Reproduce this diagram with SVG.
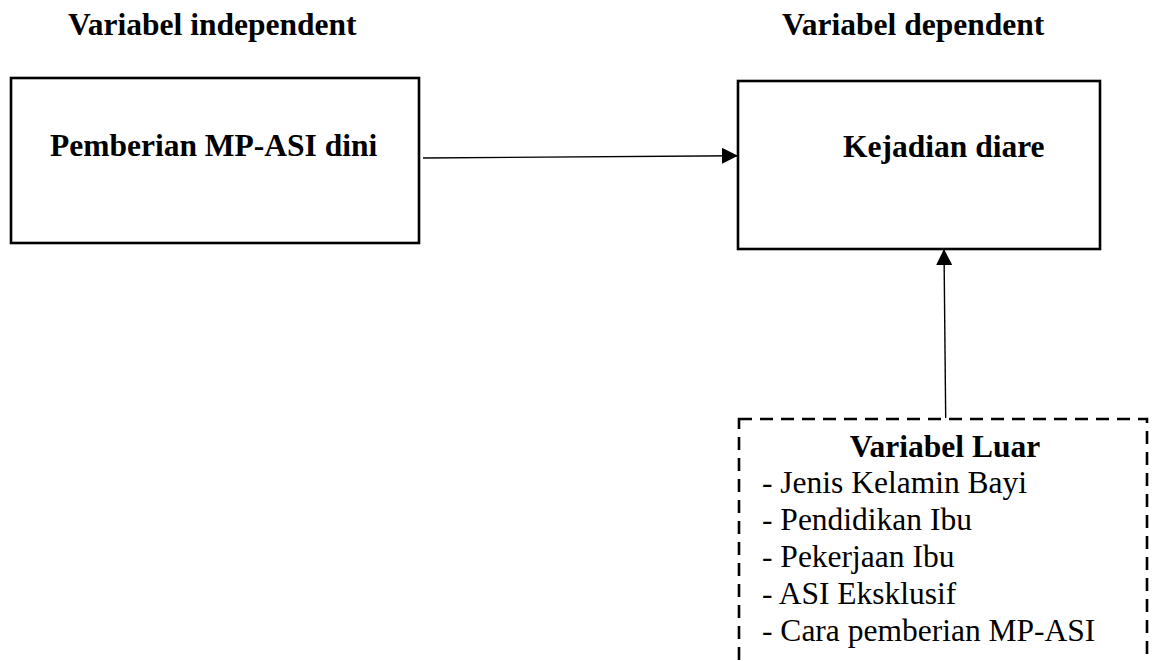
<svg xmlns="http://www.w3.org/2000/svg" width="1152" height="661" viewBox="0 0 1152 661">
<style>
.b{font-family:"Liberation Serif","Times New Roman",serif;font-weight:bold;font-size:31.5px;fill:#000}
.r{font-family:"Liberation Serif","Times New Roman",serif;font-size:31.5px;fill:#000}
.box{fill:#fff;stroke:#000;stroke-width:2.6}
.dash{fill:none;stroke:#000;stroke-width:2.6;stroke-dasharray:13 8}
.conn{stroke:#000;stroke-width:1.4;fill:none}
</style>
<defs>
<marker id="arr" markerWidth="16" markerHeight="16" refX="15" refY="8" orient="auto" markerUnits="userSpaceOnUse">
<path d="M0,0 L16,8 L0,16 Z" fill="#000"/>
</marker>
</defs>
<rect width="1152" height="661" fill="#fff"/>
<g id="title-independent"><text class="b" x="68" y="35">Variabel independent</text></g>
<g id="title-dependent"><text class="b" x="782" y="35">Variabel dependent</text></g>
<g id="node-mpasi">
<rect class="box" x="11" y="78" width="408" height="165"/>
<text class="b" x="50" y="156">Pemberian MP-ASI dini</text>
</g>
<g id="node-diare">
<rect class="box" x="738" y="81" width="362" height="168"/>
<text class="b" x="843" y="157">Kejadian diare</text>
</g>
<g id="node-luar">
<rect class="dash" x="739" y="419" width="408" height="290"/>
<text class="b" x="945" y="457" text-anchor="middle">Variabel Luar</text>
<text class="r" x="762" y="493">- Jenis Kelamin Bayi</text>
<text class="r" x="762" y="530">- Pendidikan Ibu</text>
<text class="r" x="762" y="567">- Pekerjaan Ibu</text>
<text class="r" x="762" y="604">- ASI Eksklusif</text>
<text class="r" x="762" y="641">- Cara pemberian MP-ASI</text>
</g>
<g id="connectors">
<line class="conn" x1="423" y1="158" x2="737" y2="155.7" marker-end="url(#arr)"/>
<line class="conn" x1="945.7" y1="418" x2="944" y2="250" marker-end="url(#arr)"/>
</g>
</svg>
